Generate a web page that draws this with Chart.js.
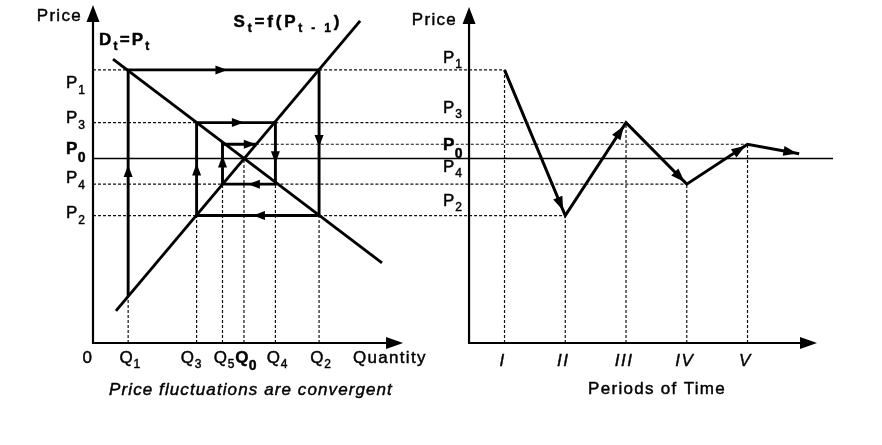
<!DOCTYPE html>
<html><head><meta charset="utf-8">
<script src="https://cdn.jsdelivr.net/npm/chart.js"></script>
<style>html,body{margin:0;padding:0;background:#fff;}#wrap{position:relative;width:882px;height:445px;}canvas{display:block;}</style>
</head><body><div id="wrap"><canvas id="c" width="882" height="445"></canvas></div>
<script>
// ================= DATA =================
// Cobweb (left panel): quantities Q1..Q6 and prices P1..P5 (arbitrary units)
const quantities = [0.95, 6.11, 2.80, 4.93, 3.50, 4.40];
const prices     = [8.08, 3.77, 6.52, 4.70, 5.88];
const equilibriumQuantity = 4.08;
const equilibriumPrice = 5.46;
const supplyPriceAtQ1 = 1.38;
// demand and supply curve end points
const demandQ = [0.54, 7.81];
const demandP = [8.40, 2.37];
const supplyQ = [0.62, 7.22];
const supplyP = [0.95, 9.53];
// Time path (right panel)
const periods = [1, 2, 3, 4, 5];
const periodLabels = ['I', 'II', 'III', 'IV', 'V'];
const periodPrices = [8.08, 3.77, 6.52, 4.70, 5.88];
const trendEndPeriod = 5.85;
const trendEndPrice = 5.60;
// tick labels
const quantityTickSubs = ['1', '3', '5', '0', '4', '2'];
const quantityTickValues = [quantities[0], quantities[2], quantities[4], equilibriumQuantity, quantities[3], quantities[1]];
const leftPriceSubs = ['1', '3', '0', '4', '2'];
const leftPriceValues = [prices[0], prices[2], equilibriumPrice, prices[3], prices[1]];
const rightPriceSubs = ['1', '3', '0', '4', '2'];
const rightPriceValues = [prices[0], prices[2], prices[4], prices[3], prices[1]];

// ================= STYLE / LAYOUT =================
const quantityAxisEnd = 8.38;
const timeAxisStart = 0.416;
const timeAxisEnd = 6.144;
const cobwebArrowFractions = [0.58, 0.52, 0.53, 0.54, 0.56, 0.6, 0.66, 0.52, 0.72, 1.0];
const quantityTickDx = [0, -7, 0, 0, 0, 0];
const leftPriceDy = [18, 0, -4, -1, 2];
const rightPriceDy = [-7, -10, 6, -12, -10];
const FAM = '"Liberation Sans", Arial, Helvetica, sans-serif';

function arrowHead(ctx, x, y, ang, len, w) {
  ctx.save(); ctx.translate(x, y); ctx.rotate(ang);
  ctx.beginPath(); ctx.moveTo(0, 0); ctx.lineTo(-len, -w / 2); ctx.lineTo(-len, w / 2); ctx.closePath(); ctx.fill();
  ctx.restore();
}
// parts: [[text, isSub], ...]
function richText(ctx, parts, x, y, o = {}) {
  const size = o.size || 17, subSize = o.subSize || 12;
  const st = (o.italic ? 'italic ' : '') + (o.bold ? 'bold ' : '');
  ctx.letterSpacing = (o.ls !== undefined ? o.ls : 1.3) + 'px';
  const widths = parts.map(([t, s]) => { ctx.font = st + (s ? subSize : size) + 'px ' + FAM; return ctx.measureText(t).width; });
  const total = widths.reduce((a, b) => a + b, 0);
  let sx = x;
  if (o.align === 'right') sx = x - total; else if (o.align === 'center') sx = x - total / 2;
  ctx.textAlign = 'left'; ctx.textBaseline = 'alphabetic';
  ctx.lineWidth = 0.45; ctx.lineJoin = 'round';
  parts.forEach(([t, s], i) => {
    ctx.font = st + (s ? subSize : size) + 'px ' + FAM;
    const yy = y + (s ? (o.subDy !== undefined ? o.subDy : 5) : 0);
    ctx.fillText(t, sx, yy);
    ctx.strokeText(t, sx, yy);
    sx += widths[i];
  });
}

// ================= DATASETS =================
const base = { type: 'scatter', yAxisID: 'y', showLine: true, pointRadius: 0, borderColor: '#000', backgroundColor: '#000', fill: false, tension: 0, clip: false };
const solid = (data, axis, w) => Object.assign({}, base, { data, xAxisID: axis, borderWidth: w });
const dashed = (data, axis) => Object.assign({}, base, { data, xAxisID: axis, borderWidth: 1.2, borderDash: [3, 2], borderColor: '#111' });

const cobweb = [{ x: quantities[0], y: supplyPriceAtQ1 }];
for (let i = 0; i < prices.length; i++) {
  cobweb.push({ x: quantities[i], y: prices[i] });
  cobweb.push({ x: quantities[i + 1], y: prices[i] });
}
const timePath = periods.map((p, i) => ({ x: p, y: periodPrices[i] }));
timePath.push({ x: trendEndPeriod, y: trendEndPrice });

const datasets = [];
datasets.push(solid(demandQ.map((q, i) => ({ x: q, y: demandP[i] })), 'x', 2.9));
datasets.push(solid(supplyQ.map((q, i) => ({ x: q, y: supplyP[i] })), 'x', 2.9));
datasets.push(solid(cobweb, 'x', 2.9));
datasets.push(solid(timePath, 'xt', 3));
datasets.push(solid([{ x: 0, y: equilibriumPrice }, { x: 20, y: equilibriumPrice }], 'x', 1.6));
// left horizontal guides P1..P4 from the price axis to the cobweb
for (let i = 0; i < 4; i++) {
  datasets.push(dashed([{ x: 0, y: prices[i] }, { x: Math.min(quantities[i], quantities[i + 1]), y: prices[i] }], 'x'));
}
// left vertical guides
const vq = [[quantities[0], supplyPriceAtQ1]];
for (let i = 1; i < 5; i++) vq.push([quantities[i], Math.min(prices[i - 1], prices[i])]);
vq.push([equilibriumQuantity, equilibriumPrice]);
vq.forEach(([q, p]) => datasets.push(dashed([{ x: q, y: 0 }, { x: q, y: p }], 'x')));
// right vertical guides
periods.forEach((t, i) => datasets.push(dashed([{ x: t, y: 0 }, { x: t, y: periodPrices[i] }], 'xt')));

// ================= OVERLAY PLUGIN =================
const overlay = {
  id: 'overlay',
  afterDatasetsDraw(chart) {
    const ctx = chart.ctx;
    const X = chart.scales.x, T = chart.scales.xt, Y = chart.scales.y;
    ctx.save();
    ctx.fillStyle = '#000'; ctx.strokeStyle = '#000';
    const y0 = Y.getPixelForValue(0), yTop = Y.getPixelForValue(Y.max);
    // cross-link guides from cobweb to time path
    ctx.setLineDash([3, 2]); ctx.lineWidth = 1.2; ctx.strokeStyle = '#111';
    for (let k = 0; k < prices.length; k++) {
      const x1 = X.getPixelForValue(Math.max(quantities[k], quantities[k + 1]));
      const x2 = T.getPixelForValue(periods[k]);
      const yy = Y.getPixelForValue(prices[k]);
      ctx.beginPath(); ctx.moveTo(x1, yy); ctx.lineTo(x2, yy); ctx.stroke();
    }
    ctx.setLineDash([]); ctx.strokeStyle = '#000';
    // axes
    const axes = [[X.getPixelForValue(0), X.getPixelForValue(quantityAxisEnd)], [T.getPixelForValue(timeAxisStart), T.getPixelForValue(timeAxisEnd)]];
    axes.forEach(([ax, tip], i) => {
      ctx.lineWidth = 2.2;
      ctx.beginPath(); ctx.moveTo(ax, yTop + (i ? 12 : 10)); ctx.lineTo(ax, y0); ctx.lineTo(tip - 10, y0); ctx.stroke();
      arrowHead(ctx, ax, yTop + (i ? 2 : 0), -Math.PI / 2, 17, 13);
      arrowHead(ctx, tip, y0, 0, 17, 12);
    });
    // cobweb arrowheads
    for (let i = 0; i < cobweb.length - 1; i++) {
      const ax = X.getPixelForValue(cobweb[i].x), ay = Y.getPixelForValue(cobweb[i].y);
      const bx = X.getPixelForValue(cobweb[i + 1].x), by = Y.getPixelForValue(cobweb[i + 1].y);
      const f = cobwebArrowFractions[i];
      const tx = ax + (bx - ax) * f, ty = ay + (by - ay) * f;
      arrowHead(ctx, tx, ty, Math.atan2(by - ay, bx - ax), 12, 9);
    }
    // time path arrowheads
    for (let i = 0; i < timePath.length - 1; i++) {
      const ax = T.getPixelForValue(timePath[i].x), ay = Y.getPixelForValue(timePath[i].y);
      const bx = T.getPixelForValue(timePath[i + 1].x), by = Y.getPixelForValue(timePath[i + 1].y);
      const f = 0.965;
      arrowHead(ctx, ax + (bx - ax) * f, ay + (by - ay) * f, Math.atan2(by - ay, bx - ax), 14, 10);
    }
    // ---- labels ----
    const lx = X.getPixelForValue(0), rx = T.getPixelForValue(timeAxisStart);
    richText(ctx, [['Price', false]], lx - 11, yTop + 16, { align: 'right' });
    richText(ctx, [['Price', false]], rx - 12, yTop + 20, { align: 'right' });
    // left price ticks
    leftPriceValues.forEach((v, i) => {
      const bold = leftPriceSubs[i] === '0';
      richText(ctx, [['P', false], [leftPriceSubs[i], true]], lx - 7, Y.getPixelForValue(v) + leftPriceDy[i],
        { align: 'right', bold, subSize: bold ? 14 : 12, subDy: bold ? 8 : 6, ls: bold ? 0.5 : 1 });
    });
    // right price ticks
    rightPriceValues.forEach((v, i) => {
      const bold = rightPriceSubs[i] === '0';
      richText(ctx, [['P', false], [rightPriceSubs[i], true]], rx - 6, Y.getPixelForValue(v) + rightPriceDy[i],
        { align: 'right', bold, subSize: bold ? 14 : 12, subDy: bold ? 8 : 5, ls: bold ? 0.5 : 1 });
    });
    // quantity ticks
    richText(ctx, [['0', false]], lx - 5, y0 + 20, { align: 'center' });
    quantityTickValues.forEach((v, i) => {
      const bold = quantityTickSubs[i] === '0';
      richText(ctx, [['Q', false], [quantityTickSubs[i], true]], X.getPixelForValue(v) + quantityTickDx[i] + 2, y0 + 20,
        { align: 'center', bold, subSize: bold ? 14 : 12, subDy: bold ? 7 : 5, ls: bold ? 0.3 : 0.8 });
    });
    richText(ctx, [['Quantity', false]], X.getPixelForValue(quantityAxisEnd) - 50, y0 + 20, {});
    richText(ctx, [['Price fluctuations are convergent', false]], 251, y0 + 52, { align: 'center', italic: true, ls: 1.1 });
    // period ticks
    periods.forEach((t, i) => {
      richText(ctx, [[periodLabels[i], false]], T.getPixelForValue(t) - 2, y0 + 23, { align: 'center', italic: true, ls: 1.5 });
    });
    richText(ctx, [['Periods of Time', false]], (rx + T.getPixelForValue(timeAxisEnd)) / 2 + 14, y0 + 51, { align: 'center' });
    // curve names
    const sTopX = X.getPixelForValue(supplyQ[1]), sTopY = Y.getPixelForValue(supplyP[1]);
    richText(ctx, [['S', false], ['t', true], ['=f(P', false], ['t - 1', true], [')', false]], sTopX - 18, sTopY + 6,
      { align: 'right', bold: true, ls: 2.8, subSize: 12, subDy: 5 });
    const dX = X.getPixelForValue(demandQ[0]), dY = Y.getPixelForValue(demandP[0]);
    richText(ctx, [['D', false], ['t', true], ['=P', false], ['t', true]], dX - 14, dY - 14,
      { bold: true, ls: 2.2, subSize: 12, subDy: 5 });
    ctx.restore();
  }
};

new Chart(document.getElementById('c'), {
  type: 'scatter',
  data: { datasets },
  options: {
    responsive: false, animation: false, devicePixelRatio: 1, events: [],
    layout: { padding: { left: 93, right: 49, top: 5, bottom: 102 } },
    scales: {
      x: { type: 'linear', display: false, min: 0, max: 20 },
      xt: { type: 'linear', display: false, min: -5.774, max: 6.407 },
      y: { type: 'linear', display: false, min: 0, max: 10 }
    },
    plugins: { legend: { display: false }, tooltip: { enabled: false }, title: { display: false } }
  },
  plugins: [overlay]
});
</script></body></html>
